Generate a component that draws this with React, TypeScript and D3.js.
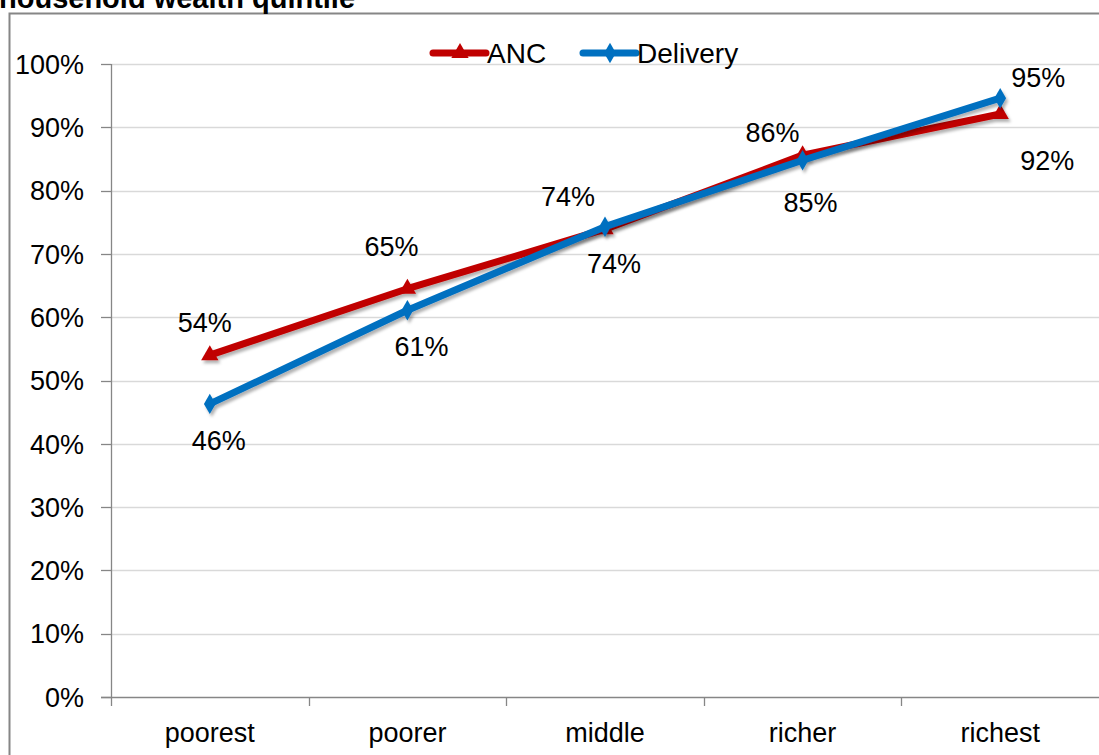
import React, { useEffect, useRef } from 'react';
import * as d3 from 'd3';

const categories = ['poorest', 'poorer', 'middle', 'richer', 'richest'];
const ancValues = [54.0, 64.5, 73.9, 85.6, 92.1];
const deliveryValues = [46.3, 61.1, 74.3, 84.8, 94.6];
const yTicks = [0, 10, 20, 30, 40, 50, 60, 70, 80, 90, 100];

// label offsets from each point (px)
const ancLabelOffsets = [[-5, -33], [-16, -42], [-37, -33], [-30, -23], [47, 46]];
const deliveryLabelOffsets = [[9, 36], [14, 36], [9, 37], [8, 42], [38, -21]];

const App = () => {
  const ref = useRef<SVGSVGElement>(null);

  useEffect(() => {
    const width = 1099, height = 755;
    const svg = d3.select(ref.current);
    svg.selectAll('*').remove();
    svg.attr('width', width).attr('height', height);

    const font = 'Liberation Sans, Arial, sans-serif';

    const defs = svg.append('defs');
    const filter = defs.append('filter').attr('id', 'shadow')
      .attr('x', '-10%').attr('y', '-10%').attr('width', '120%').attr('height', '130%');
    filter.append('feDropShadow')
      .attr('dx', 2).attr('dy', 3).attr('stdDeviation', 1.5)
      .attr('flood-color', '#000').attr('flood-opacity', 0.3);

    svg.append('rect').attr('width', width).attr('height', height).attr('fill', '#fff');

    // outer frame
    svg.append('path')
      .attr('d', `M9.5,${height + 5} L9.5,13.5 L${width + 5},13.5`)
      .attr('fill', 'none').attr('stroke', '#868686').attr('stroke-width', 2);

    // title (cut off at the top, as in the source)
    svg.append('text')
      .attr('x', -1).attr('y', 8)
      .style('font-family', font).style('font-weight', 'bold').style('font-size', '29px')
      .text('household wealth quintile');

    const x = d3.scaleBand().domain(categories).range([111, 1099]).padding(0);
    const y = d3.scaleLinear().domain([0, 100]).range([697, 64]);
    const cx = (c: string) => (x(c) as number) + x.bandwidth() / 2;

    // gridlines
    svg.append('g').selectAll('line')
      .data(yTicks.filter(t => t > 0))
      .enter().append('line')
      .attr('x1', 111).attr('x2', width)
      .attr('y1', d => Math.round(y(d)) + 0.5).attr('y2', d => Math.round(y(d)) + 0.5)
      .attr('stroke', '#d9d9d9').attr('stroke-width', 1.3);

    // y axis
    const yAxis = svg.append('g');
    yAxis.append('line').attr('x1', 111.5).attr('x2', 111.5).attr('y1', y(100)).attr('y2', y(0))
      .attr('stroke', '#868686').attr('stroke-width', 1.3);
    yAxis.selectAll('line.tick').data(yTicks).enter().append('line')
      .attr('class', 'tick')
      .attr('x1', 101).attr('x2', 111)
      .attr('y1', d => Math.round(y(d)) + 0.5).attr('y2', d => Math.round(y(d)) + 0.5)
      .attr('stroke', '#868686').attr('stroke-width', 1.3);
    yAxis.selectAll('text').data(yTicks).enter().append('text')
      .attr('x', 84).attr('y', d => y(d)).attr('dy', '0.36em')
      .attr('text-anchor', 'end')
      .style('font-family', font).style('font-size', '27px').attr('fill', '#000')
      .text(d => `${d}%`);

    // x axis
    const xAxis = svg.append('g');
    xAxis.append('line').attr('x1', 101).attr('x2', width).attr('y1', 697.5).attr('y2', 697.5)
      .attr('stroke', '#868686').attr('stroke-width', 1.3);
    xAxis.selectAll('line.tick').data(categories).enter().append('line')
      .attr('class', 'tick')
      .attr('x1', d => Math.round(x(d) as number) + 0.5).attr('x2', d => Math.round(x(d) as number) + 0.5)
      .attr('y1', 697).attr('y2', 706)
      .attr('stroke', '#868686').attr('stroke-width', 1.3);
    xAxis.selectAll('text').data(categories).enter().append('text')
      .attr('x', d => cx(d)).attr('y', 742)
      .attr('text-anchor', 'middle')
      .style('font-family', font).style('font-size', '27px').attr('fill', '#000')
      .text(d => d);

    const series = [
      { name: 'ANC', values: ancValues, color: '#C00000', symbol: d3.symbolTriangle, size: 130, offsets: ancLabelOffsets },
      { name: 'Delivery', values: deliveryValues, color: '#0070C0', symbol: d3.symbolDiamond, size: 120, offsets: deliveryLabelOffsets },
    ];

    const line = d3.line<number>()
      .x((_, i) => cx(categories[i]))
      .y(d => y(d));

    series.forEach(s => {
      const g = svg.append('g').attr('filter', 'url(#shadow)');
      g.append('path')
        .attr('d', line(s.values))
        .attr('fill', 'none').attr('stroke', s.color).attr('stroke-width', 7)
        .attr('stroke-linejoin', 'round');
      g.selectAll('path.marker').data(s.values).enter().append('path')
        .attr('class', 'marker')
        .attr('d', d3.symbol().type(s.symbol).size(s.size)())
        .attr('transform', (d, i) => `translate(${cx(categories[i])},${y(d)})`)
        .attr('fill', s.color);
    });

    series.forEach(s => {
      svg.append('g').selectAll('text').data(s.values).enter().append('text')
        .attr('x', (d, i) => cx(categories[i]) + s.offsets[i][0])
        .attr('y', (d, i) => y(d) + s.offsets[i][1])
        .attr('dy', '0.36em')
        .attr('text-anchor', 'middle')
        .style('font-family', font).style('font-size', '27px').attr('fill', '#000')
        .text(d => `${Math.round(d)}%`);
    });

    // legend
    const legendItems = [
      { s: series[0], x0: 433 },
      { s: series[1], x0: 583 },
    ];
    legendItems.forEach(({ s, x0 }) => {
      const g = svg.append('g');
      g.append('line').attr('x1', x0).attr('x2', x0 + 53).attr('y1', 53).attr('y2', 53)
        .attr('stroke', s.color).attr('stroke-width', 7).attr('stroke-linecap', 'round');
      g.append('path')
        .attr('d', d3.symbol().type(s.symbol).size(s.size)())
        .attr('transform', `translate(${x0 + 27},53)`)
        .attr('fill', s.color);
      g.append('text').attr('x', x0 + 54).attr('y', 53).attr('dy', '0.36em')
        .style('font-family', font).style('font-size', '28px').attr('fill', '#000')
        .text(s.name);
    });
  }, []);

  return <svg ref={ref} style={{ position: 'absolute', left: 0, top: 0, display: 'block' }}></svg>;
};

export default App;
